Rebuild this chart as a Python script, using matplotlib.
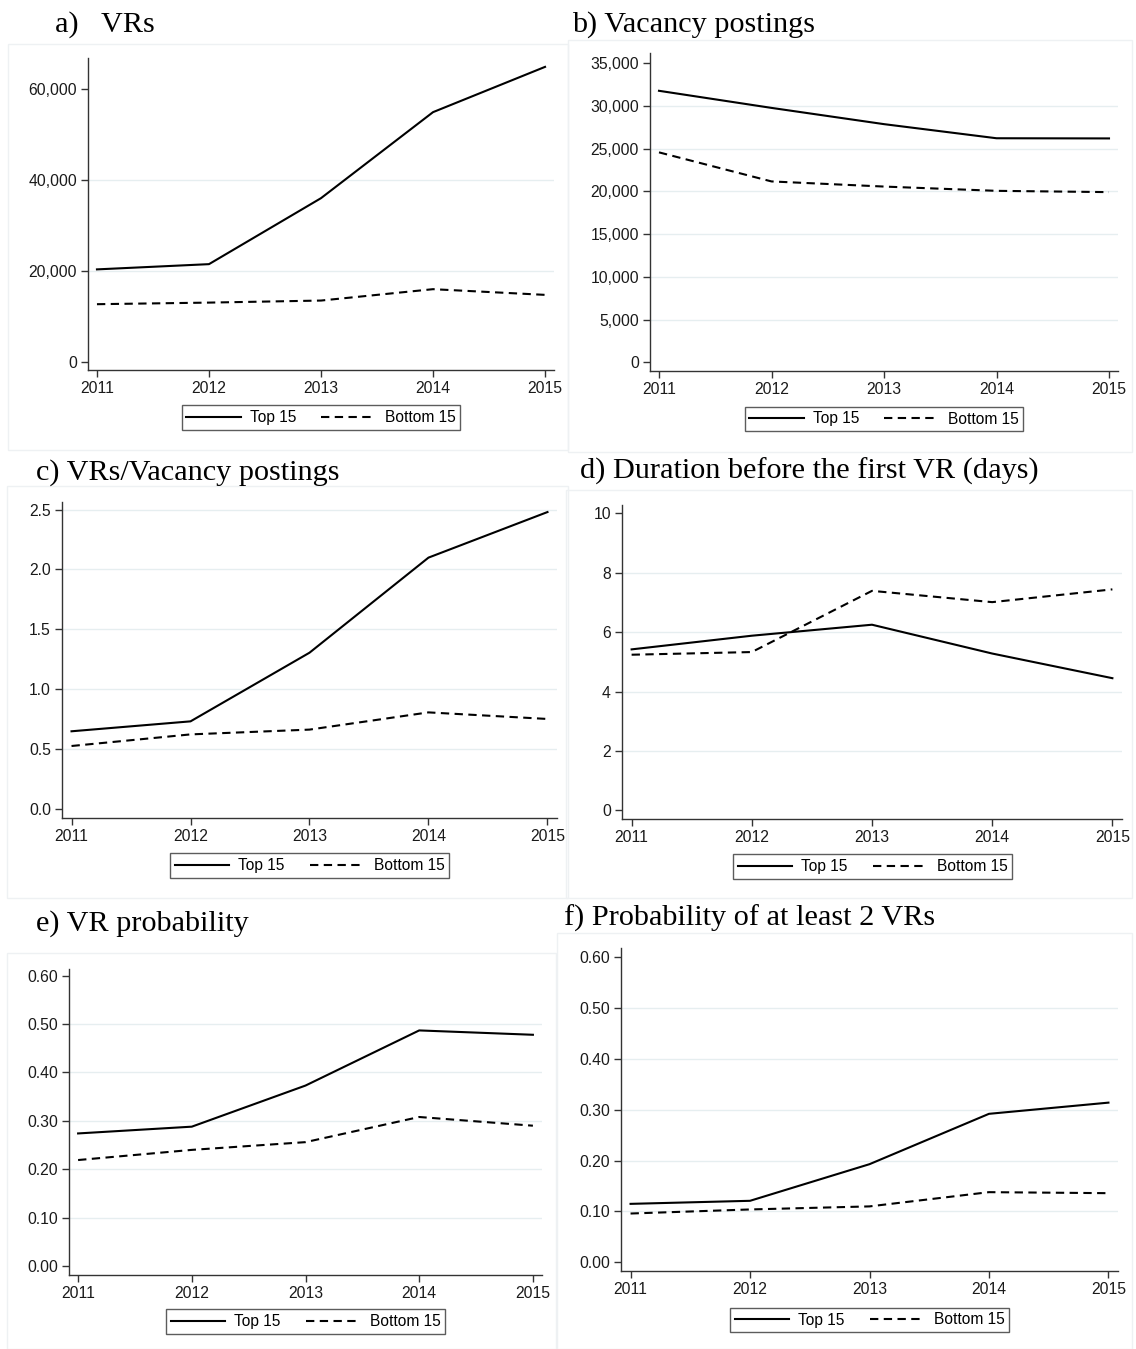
import numpy as np
import matplotlib
matplotlib.use("Agg")
import matplotlib.pyplot as plt
from matplotlib.patches import Rectangle
from matplotlib.ticker import FuncFormatter

W, H = 1136, 1349

years = [2011, 2012, 2013, 2014, 2015]

vrs_top = [20350, 21500, 36000, 54900, 64850]
vrs_bottom = [12700, 13050, 13500, 16000, 14750]

post_top = [31750, 29750, 27850, 26200, 26180]
post_bottom = [24550, 21150, 20550, 20050, 19900]

ratio_top = [0.647, 0.730, 1.304, 2.099, 2.480]
ratio_bottom = [0.524, 0.621, 0.661, 0.805, 0.750]

dur_top = [5.42, 5.88, 6.25, 5.28, 4.45]
dur_bottom = [5.24, 5.33, 7.39, 7.01, 7.44]

prob_top = [0.274, 0.288, 0.373, 0.487, 0.478]
prob_bottom = [0.219, 0.240, 0.256, 0.308, 0.290]

prob2_top = [0.115, 0.121, 0.193, 0.292, 0.314]
prob2_bottom = [0.096, 0.104, 0.110, 0.138, 0.136]

titles = ["a)   VRs", "b) Vacancy postings", "c) VRs/Vacancy postings",
          "d) Duration before the first VR (days)", "e) VR probability",
          "f) Probability of at least 2 VRs"]

plt.rcParams['font.family'] = ['Liberation Sans', 'DejaVu Sans']

fig = plt.figure(figsize=(W / 100, H / 100), dpi=100)

# faint panel frames (left, top, right, bottom) in pixels
frames = [(8, 44, 568, 450), (568, 40, 1132, 452), (7, 486, 568, 898),
          (566, 490, 1132, 898), (7, 953, 556, 1349), (557, 933, 1132, 1349)]
for l, t, r, b in frames:
    fig.patches.append(Rectangle((l / W, 1 - b / H), (r - l) / W, (b - t) / H,
                                 transform=fig.transFigure, fill=False,
                                 edgecolor='#eef1f3', lw=1))

# axes rects (left, top, right, bottom) in pixels
rects = [(88, 58, 554, 370), (650, 53, 1118, 371), (62, 502, 557, 818),
         (622, 505, 1122, 819), (69, 969, 542, 1275), (621, 948, 1118, 1271)]
ylims = [(-1760, 66800), (-1020, 36170), (-0.078, 2.564),
         (-0.29, 10.28), (-0.0187, 0.614), (-0.017, 0.618)]
yticks = [np.arange(0, 60001, 20000), np.arange(0, 35001, 5000),
          np.arange(0, 2.51, 0.5), np.arange(0, 10.1, 2),
          np.arange(0, 0.61, 0.1), np.arange(0, 0.61, 0.1)]
fmts = [lambda v, p: f"{v:,.0f}", lambda v, p: f"{v:,.0f}",
        lambda v, p: f"{v:.1f}", lambda v, p: f"{v:.0f}",
        lambda v, p: f"{v:.2f}", lambda v, p: f"{v:.2f}"]
series = [(vrs_top, vrs_bottom), (post_top, post_bottom),
          (ratio_top, ratio_bottom), (dur_top, dur_bottom),
          (prob_top, prob_bottom), (prob2_top, prob2_bottom)]
title_pos = [(55, 32), (572, 32), (36, 480), (580, 479), (36, 931), (564, 926)]
legend_box = [(181, 404, 461, 431), (743, 406, 1025, 432), (169, 852, 450, 879),
              (732, 853, 1013, 880), (169, 1308, 442, 1335), (726, 1306, 1013, 1334)]

for i in range(6):
    l, t, r, b = rects[i]
    ax = fig.add_axes([l / W, 1 - b / H, (r - l) / W, (b - t) / H])
    top, bottom = series[i]
    ax.plot(years, top, color='black', lw=1.5, label='Top 15')
    ax.plot(years, bottom, color='black', lw=1.5, ls=(0, (4, 2.6)), label='Bottom 15')
    ax.set_xlim(2010.92, 2015.08)
    ax.set_ylim(*ylims[i])
    ax.set_xticks(years)
    ax.set_yticks(yticks[i])
    ax.yaxis.set_major_formatter(FuncFormatter(fmts[i]))
    grid = yticks[i][1:] if i == 2 else yticks[i][1:-1]
    for g in grid:
        ax.axhline(g, color='#e6eef0', lw=1, zorder=0)
    for s in ['top', 'right']:
        ax.spines[s].set_visible(False)
    for s in ['left', 'bottom']:
        ax.spines[s].set_color('#333333')
        ax.spines[s].set_linewidth(1.0)
    ax.tick_params(axis='both', labelsize=11.3, colors='#333333', labelcolor='#1a1a1a',
                   length=5, width=1.0, pad=3)
    tx, ty = title_pos[i]
    fig.text(tx / W, 1 - ty / H, titles[i], family=['Liberation Serif', 'DejaVu Serif'],
             fontsize=21.8, va='baseline', ha='left')
    bl, bt, br, bb = legend_box[i]
    leg = ax.legend(loc='center', bbox_to_anchor=(((bl + br) / 2) / W, 1 - ((bt + bb) / 2) / H),
                    bbox_transform=fig.transFigure, ncol=2, fontsize=11.2,
                    frameon=True, fancybox=False, handlelength=3.5, handletextpad=0.6,
                    columnspacing=1.6, borderpad=0.3)
    leg.get_frame().set_edgecolor('#333333')
    leg.get_frame().set_linewidth(1.0)

fig.savefig("out.png", dpi=100)
